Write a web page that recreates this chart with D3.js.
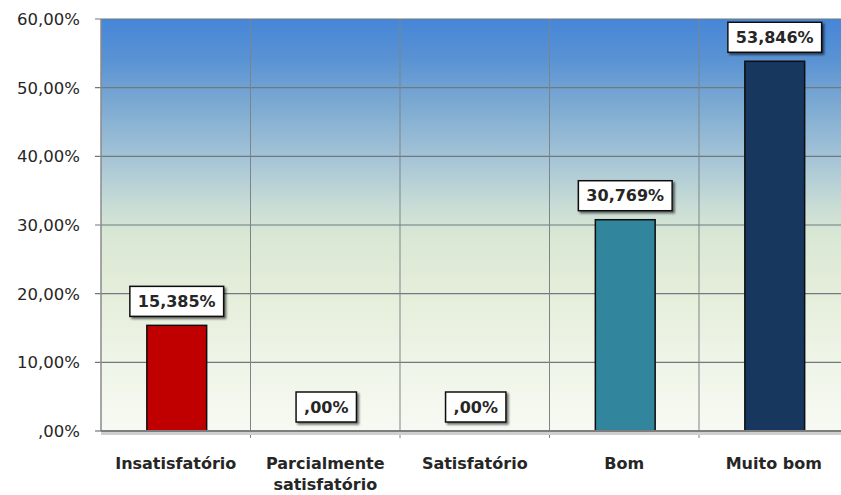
<!DOCTYPE html>
<html><head><meta charset="utf-8">
<script src="https://cdn.jsdelivr.net/npm/d3@7"></script>
<style>body{margin:0;background:#fff}svg{display:block}</style>
</head><body>
<script>
const categories = ["Insatisfatório", "Parcialmente\nsatisfatório", "Satisfatório", "Bom", "Muito bom"];
const values = [15.385, 0, 0, 30.769, 53.846];
const valueLabels = ["15,385%", ",00%", ",00%", "30,769%", "53,846%"];
const barColors = ["#c00000", "#c00000", "#c00000", "#31859c", "#17375e"];
const tickValues = [0, 10, 20, 30, 40, 50, 60];
const tickLabels = [",00%", "10,00%", "20,00%", "30,00%", "40,00%", "50,00%", "60,00%"];

const W = 841, H = 495;
const m = {left: 101, top: 19, bottom: 431, right: 848.5};
const svg = d3.select("body").append("svg").attr("width", W).attr("height", H);
const defs = svg.append("defs");
const grad = defs.append("linearGradient").attr("id","bg").attr("x1",0).attr("y1",0).attr("x2",0).attr("y2",1);
[[0,"#4686d8"],[0.1,"#5a93d3"],[0.2,"#7aa8d2"],[0.33,"#a2c2d6"],[0.45,"#c8dcd6"],[0.52,"#d8e7d4"],[0.65,"#e4edd9"],[0.8,"#edf3e5"],[1,"#f7faf3"]]
  .forEach(([o,c]) => grad.append("stop").attr("offset",o).attr("stop-color",c));
const sh = defs.append("filter").attr("id","sh").attr("x","-20%").attr("y","-20%").attr("width","150%").attr("height","160%");
sh.append("feDropShadow").attr("dx",2).attr("dy",2).attr("stdDeviation",1.2).attr("flood-color","#000").attr("flood-opacity",0.55);

const x = d3.scaleBand().domain(categories).range([m.left, m.right]).padding(0);
const y = d3.scaleLinear().domain([0, 60]).range([m.bottom, m.top]);

svg.append("rect").attr("x", m.left).attr("y", m.top).attr("width", m.right - m.left).attr("height", m.bottom - m.top).attr("fill","url(#bg)");

// horizontal gridlines
svg.append("g").selectAll("line").data(tickValues.filter(d => d > 0)).join("line")
  .attr("x1", m.left - 6).attr("x2", m.right).attr("y1", d => y(d)).attr("y2", d => y(d))
  .attr("stroke", "#6f7a7e").attr("stroke-width", 1.2);
// vertical gridlines at category boundaries
const bounds = categories.map(c => x(c)).slice(1);
svg.append("g").selectAll("line").data(bounds).join("line")
  .attr("x1", d => d).attr("x2", d => d).attr("y1", m.top).attr("y2", m.bottom + 7)
  .attr("stroke", "#7b8589").attr("stroke-width", 1);
// left axis
svg.append("line").attr("x1", m.left).attr("x2", m.left).attr("y1", m.top).attr("y2", m.bottom)
  .attr("stroke", "#8a8a8a").attr("stroke-width", 1.5);
svg.append("line").attr("x1", m.left - 6).attr("x2", m.left).attr("y1", y(0)).attr("y2", y(0))
  .attr("stroke", "#6f7a7e").attr("stroke-width", 1.2);

// y tick labels
svg.append("g").selectAll("text").data(tickValues).join("text")
  .attr("x", 80).attr("y", d => y(d)).attr("dy", "0.36em").attr("text-anchor","end")
  .attr("font-family","DejaVu Sans").attr("font-size", 16.5).attr("fill","#262626")
  .text((d,i) => tickLabels[i]);

// bars
const bw = x.bandwidth() * 0.4;
svg.append("g").selectAll("rect").data(values).join("rect")
  .attr("x", (d,i) => x(categories[i]) + x.bandwidth()/2 - bw/2 + 1)
  .attr("y", d => y(d)).attr("width", bw).attr("height", d => y(0) - y(d))
  .attr("fill", (d,i) => barColors[i]).attr("stroke", d => d > 0 ? "#0d0d0d" : "none").attr("stroke-width", 1.5);

// bottom axis with shadow
svg.append("line").attr("x1", m.left).attr("x2", m.right).attr("y1", m.bottom + 2.5).attr("y2", m.bottom + 2.5)
  .attr("stroke", "#cfcfcf").attr("stroke-width", 3);
svg.append("line").attr("x1", m.left).attr("x2", m.right).attr("y1", m.bottom).attr("y2", m.bottom)
  .attr("stroke", "#7d7d7d").attr("stroke-width", 2);

// data labels
const lg = svg.append("g").selectAll("g").data(values).join("g");
lg.each(function(d, i) {
  const g = d3.select(this);
  const cx = x(categories[i]) + x.bandwidth()/2 + 1;
  const t = g.append("text").attr("x", cx).attr("text-anchor","middle")
    .attr("font-family","DejaVu Sans").attr("font-weight","bold").attr("font-size", 16).attr("fill","#262626")
    .text(valueLabels[i]);
  const tw = t.node().getComputedTextLength();
  const bh = 30, bottom = y(d) - 9;
  g.insert("rect", "text").attr("x", cx - tw/2 - 8).attr("y", bottom - bh).attr("width", tw + 16).attr("height", bh)
    .attr("fill", "#fff").attr("stroke", "#111").attr("stroke-width", 1.5).attr("filter","url(#sh)");
  t.attr("y", bottom - bh/2).attr("dy", "0.36em");
});

// category labels
svg.append("g").selectAll("text").data(categories).join("text")
  .attr("x", d => x(d) + x.bandwidth()/2).attr("y", 469).attr("text-anchor","middle")
  .attr("font-family","DejaVu Sans").attr("font-weight","bold").attr("font-size", 16).attr("fill","#262626")
  .each(function(d) {
    d.split("\n").forEach((line, k) => {
      d3.select(this).append("tspan").attr("x", x(d) + x.bandwidth()/2).attr("dy", k === 0 ? 0 : 21).text(line);
    });
  });
</script>
</body></html>
